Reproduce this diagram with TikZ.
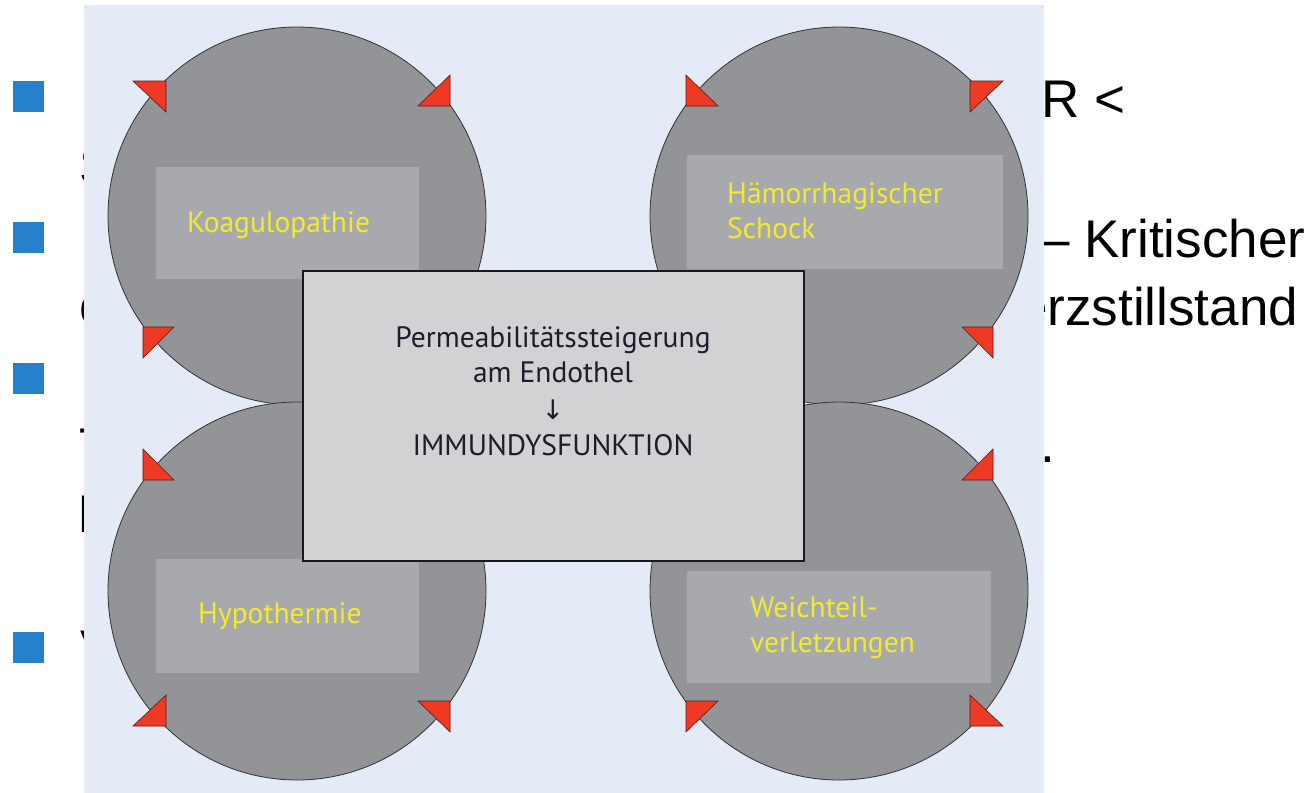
\documentclass[tikz,border=0pt]{standalone}
\usepackage{fontspec}
\setmainfont{Liberation Sans}
\newfontfamily\figfont{PT Sans}
\newfontfamily\arrowglyphfont{DejaVu Sans}

\definecolor{panelbg}{HTML}{E4EAF6}
\definecolor{bulletblue}{HTML}{2680CA}
\definecolor{circgray}{HTML}{939498}
\definecolor{rectgray}{HTML}{A8A9AD}
\definecolor{boxgray}{HTML}{D1D2D4}
\definecolor{tipred}{HTML}{EE3A24}
\definecolor{tipedge}{HTML}{5A1A10}
\definecolor{labelyellow}{HTML}{F2EA2E}
\definecolor{inkdark}{HTML}{1E1E2A}

\newcommand\drawcycletips{%
  \filldraw[redtip] (-131,-135) -- (-164,-135) -- (-131,-104) -- cycle;
  \filldraw[redtip] (153,-110) -- (121,-110) -- (153,-141) -- cycle;
  \filldraw[redtip] (-154,111) -- (-123,111) -- (-154,142) -- cycle;}

\begin{document}
\begin{tikzpicture}[x=1pt,y=-1pt,
  bulletsq/.style={fill=bulletblue, draw=none, minimum size=31pt, inner sep=0pt},
  slidetext/.style={anchor=base west, inner sep=0pt, text=black, font=\fontsize{53}{60}\selectfont},
  panelbox/.style={fill=panelbg, draw=none, minimum width=960pt, minimum height=788pt, inner sep=0pt},
  cyclecirc/.style={circle, fill=circgray, draw=black!80, line width=0.8pt, minimum size=378pt, inner sep=0pt},
  labelrect/.style={fill=rectgray, draw=none, inner sep=0pt},
  ylabel/.style={anchor=base west, inner sep=0pt, text=labelyellow, font=\figfont\fontsize{29.5}{35}\selectfont},
  centerbox/.style={fill=boxgray, draw=black!90, line width=1.6pt, minimum width=501pt, minimum height=290pt, inner sep=0pt},
  ctext/.style={anchor=base, inner sep=0pt, text=inkdark, font=\figfont\fontsize{29.5}{35}\selectfont},
  redtip/.style={fill=tipred, draw=tipedge, line width=0.6pt, line join=miter}
]
\useasboundingbox (0,0) rectangle (1316,792);
\fill[white] (0,0) rectangle (1316,792);

% slide underneath
\node[bulletsq] (b1) at (28.5,96.5) {};
\node[bulletsq] (b2) at (28.5,237.5) {};
\node[bulletsq] (b3) at (28.5,378.5) {};
\node[bulletsq] (b4) at (28.5,647.5) {};

\node[slidetext] (s1) at (79,184) {S};
\node[slidetext] (s2) at (79,324) {c};
\node[slidetext] (s3) at (79,465) {T};
\node[slidetext] (s4) at (77,532) {I};
\node[slidetext] (s5) at (80,667) {V};

\node[slidetext] (r1) at (1041,117) {R <};
\node[slidetext] (r2) at (1040,257) {– Kritischer};
\node[slidetext] (r3) at (1018,325) {erzstillstand};
\node[slidetext] (r4) at (1040,462) {.};

% figure panel
\node[panelbox] (panel) at (564,399) {};

% circles
\node[cyclecirc] (ctl) at (297,216) {};
\node[cyclecirc] (ctr) at (839,216) {};
\node[cyclecirc] (cbl) at (297,591) {};
\node[cyclecirc] (cbr) at (839,591) {};

% label rectangles
\node[labelrect, minimum width=263pt, minimum height=112pt] (rtl) at (287.5,223) {};
\node[labelrect, minimum width=316pt, minimum height=114pt] (rtr) at (845,212) {};
\node[labelrect, minimum width=263pt, minimum height=114pt] (rbl) at (287.5,616) {};
\node[labelrect, minimum width=304pt, minimum height=112pt] (rbr) at (839,627) {};

% labels
\node[ylabel] (koag) at (187,232) {Koagulopathie};
\node[ylabel] (haem1) at (727,203) {Hämorrhagischer};
\node[ylabel] (haem2) at (727,238) {Schock};
\node[ylabel] (hypo) at (198,623) {Hypothermie};
\node[ylabel] (weich1) at (750,617) {Weichteil-};
\node[ylabel] (weich2) at (750,652) {verletzungen};

% arrow tips on the circles
\begin{scope}[shift={(297,216)}] \drawcycletips \end{scope}
\begin{scope}[shift={(839,216)}, xscale=-1] \drawcycletips \end{scope}
\begin{scope}[shift={(297,591)}, yscale=-1] \drawcycletips \end{scope}
\begin{scope}[shift={(839,591)}, xscale=-1, yscale=-1] \drawcycletips \end{scope}

% central box
\node[centerbox] (core) at (553.5,416) {};
\node[ctext] (perm) at (553,347) {Permeabilitätssteigerung};
\node[ctext] (endo) at (553,382) {am Endothel};
\node[ctext, font=\arrowglyphfont\fontsize{27}{30}\selectfont] (down) at (553,419) {↓};
\node[ctext] (immun) at (553,455) {IMMUNDYSFUNKTION};
\end{tikzpicture}
\end{document}
